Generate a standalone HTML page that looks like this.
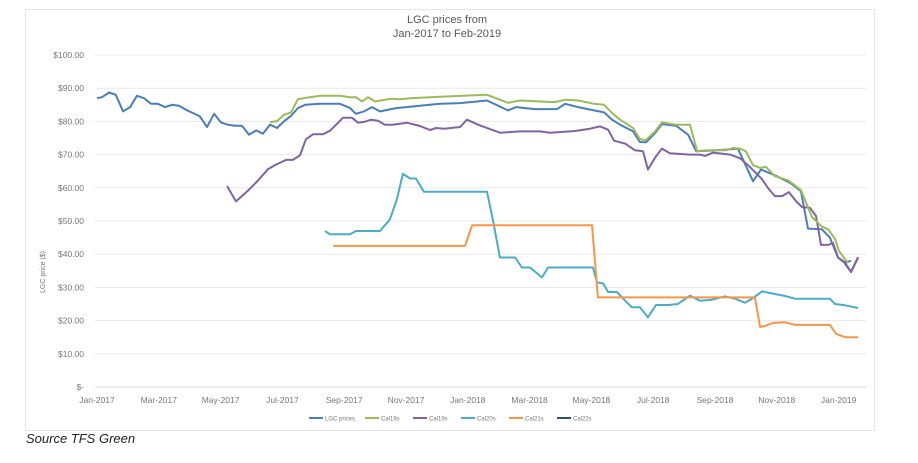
<!DOCTYPE html>
<html><head><meta charset="utf-8"><style>
body{margin:0;background:#fff;width:918px;height:458px;overflow:hidden;font-family:"Liberation Sans",sans-serif}
svg text{font-family:"Liberation Sans",sans-serif}
</style></head><body>
<svg id="chart" width="918" height="458">
<rect x="25.5" y="9.5" width="849" height="421" fill="#fff" stroke="#e6e6e6"/>
<text x="447" y="23" text-anchor="middle" font-size="11" fill="#595959">LGC prices from</text>
<text x="447" y="37" text-anchor="middle" font-size="11" fill="#595959">Jan-2017 to Feb-2019</text>
<text transform="translate(45,272) rotate(-90)" text-anchor="middle" font-size="7" fill="#777">LGC price ($)</text>
<text x="26" y="443" font-size="13" font-style="italic" fill="#222">Source TFS Green</text>
<g id="grid"></g><g id="series"></g><g id="legend"></g>
</svg>
<script>
const yTicks=[0,10,20,30,40,50,60,70,80,90,100];
const yTickLabels=["$-","$10.00","$20.00","$30.00","$40.00","$50.00","$60.00","$70.00","$80.00","$90.00","$100.00"];
const xTickMonths=[0,2,4,6,8,10,12,14,16,18,20,22,24];
const xTickLabels=["Jan-2017","Mar-2017","May-2017","Jul-2017","Sep-2017","Nov-2017","Jan-2018","Mar-2018","May-2018","Jul-2018","Sep-2018","Nov-2018","Jan-2019"];
const seriesNames=["LGC prices","Cal18s","Cal19s","Cal20s","Cal21s","Cal22s"];
const lgcMonths=[0,0.16,0.39,0.61,0.84,1.07,1.29,1.52,1.75,1.97,2.2,2.43,2.65,2.88,3.11,3.33,3.56,3.79,4.01,4.24,4.47,4.69,4.92,5.15,5.37,5.6,5.83,6.05,6.28,6.5,6.73,7.22,7.86,8.19,8.38,8.64,8.9,9.16,9.68,10.45,11.1,11.75,12.62,13.3,13.56,14.17,14.89,15.15,15.57,16.08,16.41,16.67,16.93,17.35,17.57,17.77,18.06,18.28,18.74,19.13,19.39,19.84,20.36,20.74,21.23,21.49,22,22.43,22.78,23.01,23.46,23.72,23.98,24.21,24.4];
const lgcValues=[87,87.3,88.7,88,83,84.3,87.7,87,85.3,85.3,84.3,85,84.7,83.5,82.5,81.5,78.3,82.3,79.7,79,78.7,78.7,76,77.3,76.3,79,78,80,81.7,84,85,85.3,85.3,84,82.3,83,84.3,83,84,84.7,85.3,85.5,86.3,83.3,84.3,83.7,83.7,85.3,84.3,83.3,82.7,80.5,79,77,73.8,73.7,76.5,79.2,78.7,76,71,71.2,71.5,71.8,62,65.5,63.5,61.5,59,47.7,47.5,45,39,37.5,38];
const cal18Months=[5.6,5.83,6.05,6.28,6.5,6.89,7.22,7.86,8.19,8.38,8.58,8.77,9,9.48,9.81,10.13,11.1,12.62,13.3,13.69,14.34,14.82,15.15,15.57,16.08,16.41,16.67,16.93,17.35,17.57,17.77,18.06,18.28,18.74,19.19,19.42,19.71,20.36,20.58,20.81,21,21.23,21.46,21.65,21.94,22.36,22.78,23.14,23.46,23.66,23.88,24.01,24.21,24.3];
const cal18Values=[79.8,80.1,82,82.7,86.7,87.3,87.7,87.7,87.3,87.3,86,87.3,86,86.8,86.7,87,87.4,88,85.6,86.3,86,85.8,86.5,86.3,85.3,85,82.5,80.5,78,74.6,74.4,77,79.7,79,79,71,71.3,71.3,72,71.8,71,66.8,66,66.3,63.5,62.3,59.3,51.2,48.3,47.5,44.7,41,38.5,37.3];
const cal19Months=[4.21,4.5,4.89,5.21,5.53,5.79,6.12,6.34,6.57,6.76,6.99,7.31,7.54,7.77,7.96,8.25,8.45,8.67,8.87,9.09,9.32,9.55,9.81,10.03,10.45,10.78,10.97,11.23,11.75,11.97,12.39,13.04,13.69,14.34,14.66,15.47,15.95,16.28,16.54,16.73,17.09,17.41,17.67,17.83,18.09,18.28,18.54,19.19,19.51,19.68,19.94,20.49,20.81,21.07,21.33,21.52,21.72,21.94,22.17,22.39,22.62,22.82,23.07,23.27,23.43,23.66,23.82,23.98,24.17,24.4,24.63];
const cal19Values=[60.5,55.9,59.2,62.2,65.6,67,68.4,68.4,69.8,74.6,76.1,76.1,77.2,79.3,81.1,81.1,79.6,79.9,80.5,80.2,79,79,79.3,79.6,78.6,77.4,78,77.8,78.3,80.5,78.8,76.6,77,77,76.6,77.1,77.8,78.5,77.5,74.2,73.3,71.3,71,65.5,69.5,71.8,70.4,70,70,69.6,70.6,70,68.9,66.8,64.4,62.6,59.9,57.5,57.5,58.7,56,54.2,54,51.5,42.8,42.8,43.4,39,37.6,34.6,39.1];
const cal20Months=[7.38,7.54,8.19,8.38,9.16,9.48,9.71,9.9,10.13,10.32,10.58,12.62,12.82,13.04,13.53,13.75,14.01,14.17,14.4,14.6,16.05,16.18,16.38,16.54,16.83,17.09,17.31,17.57,17.83,18.09,18.48,18.8,19.19,19.51,19.9,20.32,20.65,20.97,21.2,21.52,21.78,22.27,22.59,23.72,23.88,24.21,24.63];
const cal20Values=[47,46,46,47,47,50.5,56.7,64.2,62.8,62.8,58.8,58.8,50,39,39,36,36,34.8,33,36,36,31.5,31.2,28.6,28.6,26,24,24,21,24.7,24.7,25,27.5,26,26.3,27.3,26.6,25.4,26.6,28.8,28.3,27.4,26.6,26.6,25,24.6,23.8];
const cal21Months=[7.64,11.91,12.14,16.02,16.21,21.29,21.46,21.62,21.88,22.27,22.59,23.72,23.92,24.21,24.63];
const cal21Values=[42.5,42.5,48.7,48.7,27,27,18,18.4,19.3,19.5,18.7,18.7,16,15,15];
const cal22Months=[24.17,24.4,24.63];
const cal22Values=[37.8,34.7,39];
const colors=["#4a7ebb","#9bbb59","#8064a2","#4bacc6","#f79646","#2c4d75"];
const X=m=>97+m*30.9, Y=v=>387-v*3.32;
const NS="http://www.w3.org/2000/svg";
const grid=document.getElementById('grid');
yTicks.forEach((t,i)=>{
  const l=document.createElementNS(NS,'line');
  l.setAttribute('x1',95);l.setAttribute('x2',866);l.setAttribute('y1',Y(t));l.setAttribute('y2',Y(t));
  l.setAttribute('stroke',i===0?'#d9d9d9':'#e8e8e8');l.setAttribute('stroke-width',1);
  
  
  grid.appendChild(l);
  const tx=document.createElementNS(NS,'text');
  tx.setAttribute('x',84);tx.setAttribute('y',Y(t)+3);tx.setAttribute('text-anchor','end');
  tx.setAttribute('font-size','8.5');tx.setAttribute('fill','#777');tx.textContent=yTickLabels[i];
  
  
  grid.appendChild(tx);
});
xTickMonths.forEach((m,i)=>{
  const tx=document.createElementNS(NS,'text');
  tx.setAttribute('x',X(m));tx.setAttribute('y',403);tx.setAttribute('text-anchor','middle');
  tx.setAttribute('font-size','8.5');tx.setAttribute('fill','#777');tx.textContent=xTickLabels[i];
  
  
  grid.appendChild(tx);
});
const allMonths=[lgcMonths,cal18Months,cal19Months,cal20Months,cal21Months,cal22Months];
const allValues=[lgcValues,cal18Values,cal19Values,cal20Values,cal21Values,cal22Values];
const sg=document.getElementById('series');
[3,4,0,5,2,1].forEach(s=>{
  const p=document.createElementNS(NS,'polyline');
  p.setAttribute('points',allMonths[s].map((m,i)=>X(m).toFixed(1)+','+Y(allValues[s][i]).toFixed(1)).join(' '));
  p.setAttribute('fill','none');p.setAttribute('stroke',colors[s]);p.setAttribute('stroke-width',2);
  p.setAttribute('stroke-linejoin','round');
  
  
  sg.appendChild(p);
});
const lg=document.getElementById('legend');
const lx=[309,365,413,461,509,557];
seriesNames.forEach((n,i)=>{
  const g=document.createElementNS(NS,'g');
  
  
  const l=document.createElementNS(NS,'line');
  l.setAttribute('x1',lx[i]);l.setAttribute('x2',lx[i]+14);l.setAttribute('y1',418);l.setAttribute('y2',418);
  l.setAttribute('stroke',colors[i]);l.setAttribute('stroke-width',2);
  g.appendChild(l);
  const t=document.createElementNS(NS,'text');
  t.setAttribute('x',lx[i]+16);t.setAttribute('y',420.5);t.setAttribute('font-size','6');t.setAttribute('fill','#777');
  t.textContent=n;g.appendChild(t);
  lg.appendChild(g);
});
</script>
</body></html>
